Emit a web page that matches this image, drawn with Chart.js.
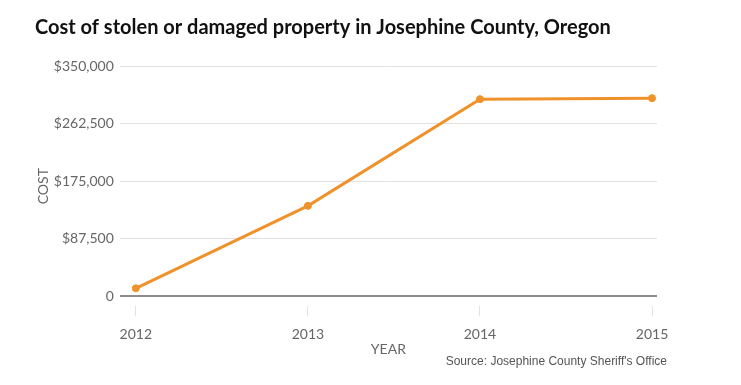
<!DOCTYPE html>
<html>
<head>
<meta charset="utf-8">
<script src="https://cdn.jsdelivr.net/npm/chart.js@4"></script>
<style>
  body { margin: 0; background: #fff; }
  #wrap { position: relative; width: 741px; height: 385px; }
  #source {
    position: absolute;
    right: 74px;
    top: 354px;
    font-family: 'Liberation Sans', Arial, sans-serif;
    font-size: 12px;
    line-height: 14px;
    color: #555;
    white-space: nowrap;
  }
</style>
</head>
<body>
<div id="wrap">
  <canvas id="myChart" width="741" height="385"></canvas>
  <div id="source">Source: Josephine County Sheriff's Office</div>
</div>
<script>
// Data
const years = [2012, 2013, 2014, 2015]
const cost = [12200, 137500, 299600, 301100]
const costTicks = [0, 87500, 175000, 262500, 350000]

const orange = '#F0922A'

function moneyLabel(v) {
  if (v === 0) return '0'
  return '$' + v.toLocaleString('en-US')
}

var ctx = document.getElementById('myChart').getContext('2d')
var myChart = new Chart(ctx, {
  type: 'line',
  data: {
    datasets: [{
      label: 'Cost',
      data: years.map((y, i) => ({x: y, y: cost[i]})),
      borderColor: orange,
      backgroundColor: orange,
      borderWidth: 3,
      pointRadius: 3.5,
      pointBorderWidth: 1,
      pointHoverRadius: 3.5,
      clip: false,
      tension: 0
    }]
  },
  options: {
    responsive: false,
    animation: false,
    layout: {
      padding: {left: 35, right: 84, top: 16, bottom: 27}
    },
    plugins: {
      legend: {display: false},
      tooltip: {enabled: false},
      title: {
        display: true,
        text: 'Cost of stolen or damaged property in Josephine County, Oregon',
        align: 'start',
        color: '#111',
        font: {family: 'Lato', size: 20, weight: 'bold'},
        padding: {top: 0, bottom: 26}
      }
    },
    scales: {
      x: {
        type: 'linear',
        min: 2011.907,
        max: 2015.029,
        afterBuildTicks: function(axis) {
          axis.ticks = years.map(v => ({value: v}))
        },
        grid: {
          drawOnChartArea: false,
          drawTicks: true,
          tickLength: 10,
          color: '#e2e2e2'
        },
        border: {display: false},
        ticks: {
          color: '#666',
          font: {family: 'Lato', size: 14},
          padding: 10,
          maxRotation: 0,
          callback: v => String(v)
        },
        title: {
          display: true,
          text: 'YEAR',
          color: '#666',
          font: {family: 'Lato', size: 14},
          padding: {top: -12, bottom: 0}
        }
      },
      y: {
        min: -15300,
        max: 350000,
        afterBuildTicks: function(axis) {
          axis.ticks = costTicks.map(v => ({value: v}))
        },
        grid: {
          drawTicks: false,
          color: c => (c.tick && c.tick.value === 0) ? '#8c8c8c' : '#e2e2e2',
          lineWidth: c => (c.tick && c.tick.value === 0) ? 2 : 1
        },
        border: {display: false},
        ticks: {
          color: '#666',
          font: {family: 'Lato', size: 14},
          padding: 6,
          callback: v => moneyLabel(v)
        },
        title: {
          display: true,
          text: 'COST',
          color: '#666',
          font: {family: 'Lato', size: 14},
          padding: {top: 0, bottom: -4}
        }
      }
    }
  }
})
</script>
</body>
</html>
